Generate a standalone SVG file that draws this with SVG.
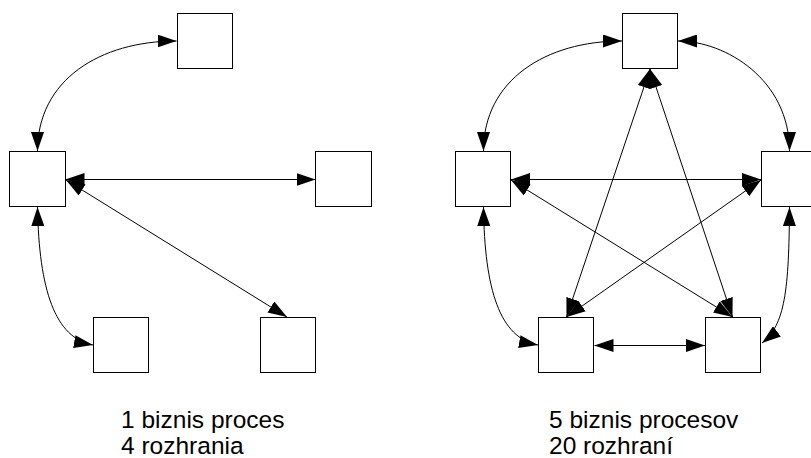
<svg xmlns="http://www.w3.org/2000/svg" width="811" height="458" viewBox="0 0 811 458">
  <style>
    .box { fill: #fff; stroke: #000; stroke-width: 1; }
    .link { fill: none; stroke: #000; stroke-width: 1; marker-start: url(#head); marker-end: url(#head); }
    .caption { font-family: "Liberation Sans", Arial, sans-serif; font-size: 24.5px; fill: #000; }
  </style>
  <defs>
    <marker id="head" markerUnits="userSpaceOnUse" markerWidth="19" markerHeight="13" refX="19" refY="6.5" orient="auto-start-reverse">
      <path d="M0,0 L19,6.5 L0,13 Z" fill="#000"/>
    </marker>
  </defs>
  <rect width="811" height="458" fill="#fff"/>

  <!-- connectors -->
  <g id="connectors">
    <!-- one process, four interfaces -->
    <path class="link" d="M37.5,151 C37.5,80 100,41 176.5,41"/>
    <path class="link" d="M65.5,179.5 L315.5,179.5"/>
    <path class="link" d="M66,180 L287,317"/>
    <path class="link" d="M37.5,207 C39,290 55,338 93,345"/>
    <!-- five processes, twenty interfaces -->
    <path class="link" d="M483.5,151 C483.5,80 546,41 622,41"/>
    <path class="link" d="M789.5,151 C789.5,80 726,41 678,41"/>
    <path class="link" d="M511,179.5 L761,179.5"/>
    <path class="link" d="M650,69 L566.5,317"/>
    <path class="link" d="M650,69 L732.5,317"/>
    <path class="link" d="M511,180 L732.5,317"/>
    <path class="link" d="M761,180 L566.5,317"/>
    <path class="link" d="M594.5,345.5 L705,345.5"/>
    <path class="link" d="M483.5,207 C484.5,290 500,338 538,345"/>
    <path class="link" d="M789.5,207 C789,290 785,325 762,343"/>
  </g>

  <!-- left cluster -->
  <g id="l-top"><rect class="box" x="177.5" y="13.5" width="55" height="55"/></g>
  <g id="l-mid"><rect class="box" x="9.5" y="151.5" width="56" height="55"/></g>
  <g id="l-right"><rect class="box" x="315.5" y="151.5" width="56" height="55"/></g>
  <g id="l-bl"><rect class="box" x="93.5" y="317.5" width="55" height="55"/></g>
  <g id="l-br"><rect class="box" x="260.5" y="317.5" width="55" height="55"/></g>

  <!-- right cluster -->
  <g id="r-top"><rect class="box" x="622.5" y="13.5" width="55" height="55"/></g>
  <g id="r-left"><rect class="box" x="455.5" y="151.5" width="55" height="55"/></g>
  <g id="r-right"><rect class="box" x="761.5" y="151.5" width="56" height="55"/></g>
  <g id="r-bl"><rect class="box" x="538.5" y="317.5" width="55" height="55"/></g>
  <g id="r-br"><rect class="box" x="705.5" y="317.5" width="55" height="55"/></g>

  <!-- captions -->
  <g id="caption-left">
    <text class="caption" x="121" y="428">1 biznis proces</text>
    <text class="caption" x="121" y="454">4 rozhrania</text>
  </g>
  <g id="caption-right">
    <text class="caption" x="549" y="428">5 biznis procesov</text>
    <text class="caption" x="549" y="454">20 rozhraní</text>
  </g>
</svg>
